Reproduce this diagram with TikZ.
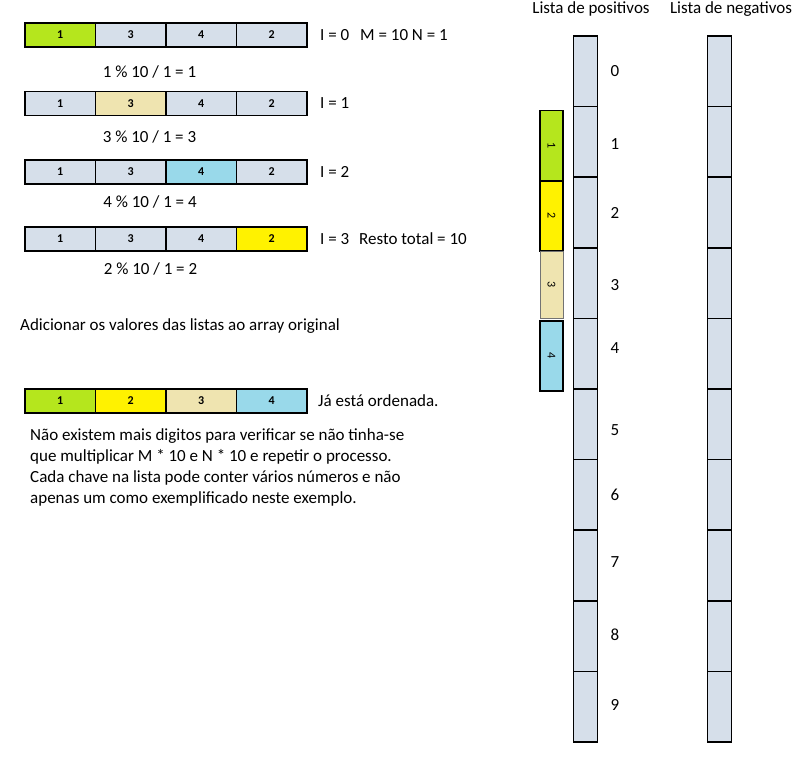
\documentclass[tikz,border=0pt]{standalone}
\usepackage{fontspec}
\setmainfont{Carlito}
\usepackage{tikz}
\usetikzlibrary{positioning}
\definecolor{cellgray}{HTML}{D6DFEA}
\definecolor{hlgreen}{HTML}{B5E61D}
\definecolor{hlbeige}{HTML}{EFE4B0}
\definecolor{hlblue}{HTML}{99D9EA}
\definecolor{hlyellow}{HTML}{FFF200}
\tikzset{
  cell/.style    = {draw=black, line width=1.6pt, minimum width=70.5pt, minimum height=24pt,
                    inner sep=0pt, font=\fontsize{12}{14}\selectfont\bfseries},
  slot/.style    = {draw=black, line width=1.6pt, fill=cellgray, minimum width=24pt,
                    minimum height=70.6pt, inner sep=0pt},
  keybox/.style  = {draw=black, line width=1.6pt, minimum width=23pt, minimum height=70pt,
                    inner sep=0pt, font=\fontsize{12}{14}\selectfont},
  tag/.style     = {font=\fontsize{17}{20}\selectfont, inner sep=0pt, anchor=west},
  calc/.style    = {font=\fontsize{17}{20}\selectfont, inner sep=0pt},
}
\begin{document}
\begin{tikzpicture}[x=1pt, y=-1pt]
  \useasboundingbox (0,0) rectangle (802,769);
  % passes over the array
  \foreach \r/\yy/\hl/\hc in {a/35/1/hlgreen, b/103.5/2/hlbeige, c/172/3/hlblue, d/239/4/hlyellow}{
    \foreach \v [count=\i] in {1,3,4,2}{
      \def\fc{cellgray}\ifnum\i=\hl\def\fc{\hc}\fi
      \node[cell, fill=\fc] (\r\i) at (25+70.5*\i-35.25,\yy) {\v};
    }
  }
  \node[tag] (ia) at (320,35) {I = 0};
  \node[tag] (mn) at (360,35) {M = 10 N = 1};
  \node[tag] (ib) at (320,103.5) {I = 1};
  \node[tag] (ic) at (320,172) {I = 2};
  \node[tag] (id) at (320,239) {I = 3};
  \node[tag] (rest) at (359,239) {Resto total = 10};
  \node[calc] (fa) at (149.5,72) {1 \% 10 / 1 = 1};
  \node[calc] (fb) at (149.5,137) {3 \% 10 / 1 = 3};
  \node[calc] (fc) at (150,202) {4 \% 10 / 1 = 4};
  \node[calc] (fd) at (150.5,269) {2 \% 10 / 1 = 2};
  % sorted result
  \node[tag] (add) at (20,326) {Adicionar os valores das listas ao array original};
  \foreach \v/\fc [count=\i] in {1/hlgreen, 2/hlyellow, 3/hlbeige, 4/hlblue}
    \node[cell, fill=\fc] (e\i) at (25+70.5*\i-35.25,401) {\v};
  \node[tag] (done) at (318,401) {Já está ordenada.};
  \node[tag, anchor=north west, align=left, font=\fontsize{17}{21}\selectfont] (note) at (30,428)
    {Não existem mais digitos para verificar se não tinha-se\\
     que multiplicar M * 10 e N * 10 e repetir o processo.\\
     Cada chave na lista pode conter vários números e não\\
     apenas um como exemplificado neste exemplo.};
  % bucket lists
  \node[calc] (tpos) at (591,9) {Lista de positivos};
  \node[calc] (tneg) at (731,9) {Lista de negativos};
  \foreach \k/\dy in {0/0, 1/2, 2/0, 3/2, 4/-6, 5/6, 6/0, 7/-3, 8/-1, 9/-2}{
    \node[slot] (p\k) at (585.5,71.3+70.6*\k) {};
    \node[slot] (n\k) at (719.5,71.3+70.6*\k) {};
    \node[calc, anchor=west] (lab\k) at ([xshift=12pt, yshift=-\dy pt]p\k.east) {\k};
  }
  % values placed in their keys
  \node[keybox, fill=hlgreen] (k1) at (551.5,145.5) {\rotatebox{-90}{1}};
  \node[keybox, fill=hlyellow] (k2) at (551.5,216) {\rotatebox{-90}{2}};
  \node[keybox, fill=hlbeige, draw=black!55, line width=1pt, minimum height=67pt] (k3) at (551.5,285) {\rotatebox{-90}{3}};
  \node[keybox, fill=hlblue] (k4) at (551.5,356) {\rotatebox{-90}{4}};
\end{tikzpicture}
\end{document}
